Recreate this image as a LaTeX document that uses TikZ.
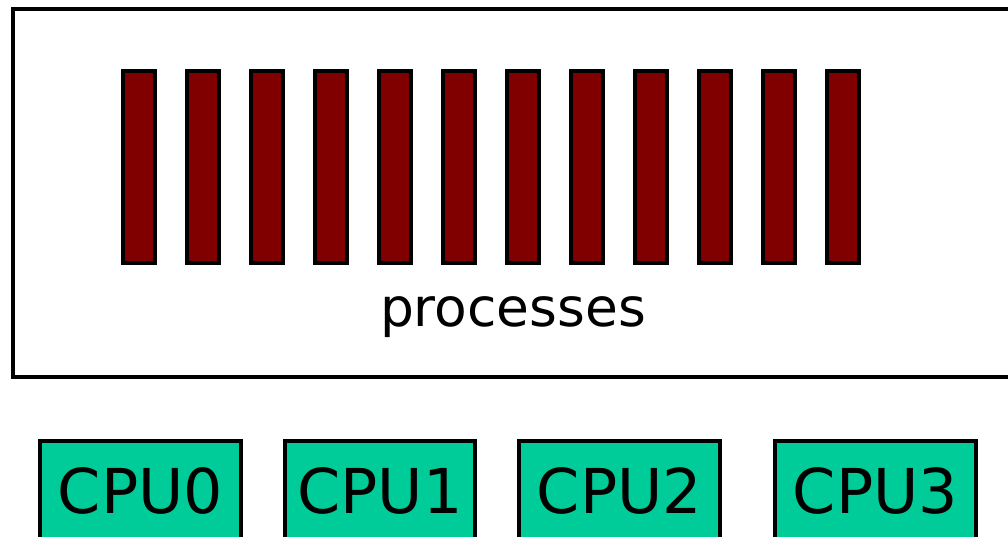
\documentclass[tikz,border=0pt]{standalone}
\usepackage{fontspec}
\setmainfont{DejaVu Sans}
\usepackage{tikz}
\usetikzlibrary{positioning}
\definecolor{procred}{RGB}{128,0,0}
\definecolor{cpugreen}{RGB}{0,204,153}
\newcommand{\widthbar}{0.8cm}
\newcommand{\pitchbar}{1.6cm}
\tikzset{
    common/.style={draw, rectangle, line width=2.8pt, inner sep=0pt},
    proc/.style={common, fill=procred, minimum width=\widthbar, minimum height=4.8cm},
    cpu/.style={common, fill=cpugreen, anchor=north, font=\fontsize{44}{44}\selectfont,
        text height=1.825cm, text depth=1.2cm},
    label/.style={anchor=base, font=\fontsize{38}{38}\selectfont}
}
\begin{document}
\begin{tikzpicture}
                \useasboundingbox (0,0) rectangle (25.2,13.425);
                \node[common, anchor=north west, minimum width=25.8cm, minimum height=9.2cm] (procbox) at (0.275,13.25) {};

                \path (3.475,9.25) node[proc] (p0) {}
                    to ++(0:\pitchbar) node[proc] (p1) {}
                    to ++(0:\pitchbar) node[proc] (p2) {}
                    to ++(0:\pitchbar) node[proc] (p3) {}
                    to ++(0:\pitchbar) node[proc] (p4) {}
                    to ++(0:\pitchbar) node[proc] (p5) {}
                    to ++(0:\pitchbar) node[proc] (p6) {}
                    to ++(0:\pitchbar) node[proc] (p7) {}
                    to ++(0:\pitchbar) node[proc] (p8) {}
                    to ++(0:\pitchbar) node[proc] (p9) {}
                    to ++(0:\pitchbar) node[proc] (p10) {}
                    to ++(0:\pitchbar) node[proc] (p11) {};
                \node[label] (proclabel) at (12.825,5.25) {processes};

                \node[cpu, minimum width=5.025cm] (cpu0) at (3.5125,2.45) {CPU0};
                \node[cpu, minimum width=4.75cm] (cpu1) at (9.5,2.45) {CPU1};
                \node[cpu, minimum width=5.025cm] (cpu2) at (15.4875,2.45) {CPU2};
                \node[cpu, minimum width=5.025cm] (cpu3) at (21.8875,2.45) {CPU3};
            \end{tikzpicture}
\end{document}
